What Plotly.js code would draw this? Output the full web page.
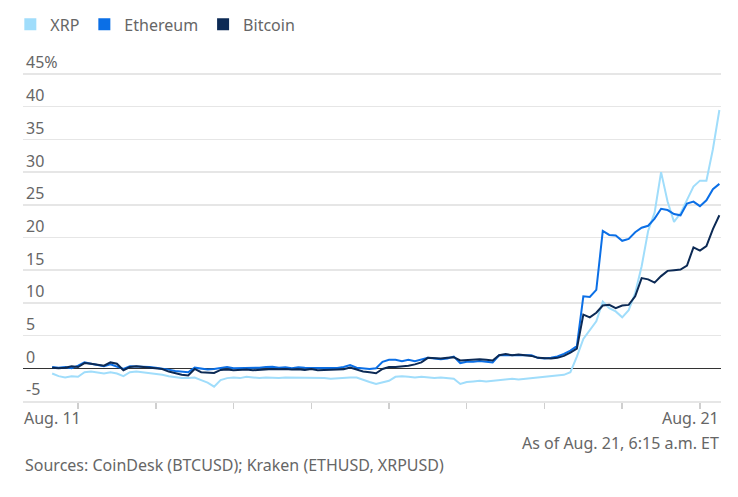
<!DOCTYPE html>
<html>
<head>
<meta charset="utf-8">
<script src="https://cdn.plot.ly/plotly-3.0.1.min.js"></script>
<style>
  html, body { margin: 0; padding: 0; background: #fff; }
  #crypto-chart { width: 738px; height: 497px; }
</style>
</head>
<body>
<div id="crypto-chart"></div>
<script>
// percent change since Aug. 11, one reading every 2 hours
var startTime = '2025-08-11T16:00:00';
var stepHours = 2;

var xrp = [
    -0.8, -1.2, -1.4, -1.2, -1.3, -0.6, -0.5, -0.6, -0.8, -0.6,
    -0.8, -1.2, -0.6, -0.5, -0.6, -0.7, -0.9, -1.0, -1.2, -1.4,
    -1.5, -1.5, -1.4, -1.8, -2.2, -2.8, -1.8, -1.5, -1.4, -1.5,
    -1.3, -1.4, -1.5, -1.4, -1.5, -1.5, -1.4, -1.4, -1.5, -1.4,
    -1.5, -1.5, -1.5, -1.6, -1.5, -1.4, -1.4, -1.4, -1.8, -2.1,
    -2.4, -2.1, -1.9, -1.3, -1.2, -1.3, -1.4, -1.3, -1.4, -1.5,
    -1.4, -1.5, -1.6, -2.4, -2.1, -2.0, -1.9, -2.0, -1.9, -1.8,
    -1.7, -1.6, -1.7, -1.6, -1.5, -1.4, -1.3, -1.1, -1.0, -1.0,
    -0.6, 1.8, 4.5, 5.9, 7.2, 10.2, 9.2, 8.7, 7.8, 8.9,
    11.5, 15.6, 21.0, 23.8, 30.0, 25.5, 22.4, 23.7, 25.7, 27.8,
    28.7, 28.7, 33.5, 39.5
];

var ethereum = [
    0.2, 0.1, 0.2, 0.0, 0.4, 0.9, 0.7, 0.5, 0.3, 0.6,
    0.3, -0.1, 0.3, 0.3, 0.2, 0.2, 0.1, 0.0, -0.2, -0.4,
    -0.5, -0.6, 0.1, -0.1, -0.2, -0.1, 0.1, 0.2, 0.0, 0.0,
    0.1, 0.0, 0.1, 0.2, 0.25, 0.1, 0.15, 0.0, 0.15, 0.1,
    0.1, 0.0, 0.1, 0.0, 0.05, 0.2, 0.5, 0.1, 0.0, -0.1,
    0.0, 1.0, 1.3, 1.3, 1.1, 1.3, 1.1, 1.4, 1.6, 1.5,
    1.4, 1.5, 1.8, 0.8, 1.0, 1.0, 1.1, 1.0, 0.9, 2.0,
    2.0, 1.9, 2.0, 1.9, 2.0, 1.6, 1.5, 1.6, 1.8, 2.2,
    2.7, 3.4, 11.0, 10.9, 12.0, 21.0, 20.4, 20.3, 19.5, 19.8,
    20.8, 21.5, 21.8, 22.9, 24.4, 24.2, 23.6, 23.4, 25.2, 25.5,
    24.8, 25.7, 27.4, 28.2
];

var bitcoin = [
    0.1, 0.0, 0.1, 0.3, 0.2, 0.8, 0.7, 0.5, 0.4, 0.9,
    0.7, -0.3, 0.2, 0.3, 0.2, 0.1, 0.0, -0.1, -0.5, -0.8,
    -1.0, -1.1, -0.1, -0.6, -0.7, -0.7, -0.25, -0.2, -0.3, -0.25,
    -0.2, -0.3, -0.25, -0.1, -0.1, -0.15, -0.1, -0.2, -0.15, -0.25,
    -0.1, -0.3, -0.25, -0.3, -0.2, -0.15, 0.1, -0.2, -0.5, -0.6,
    -0.75, -0.1, 0.2, 0.2, 0.25, 0.4, 0.6, 0.9, 1.6, 1.5,
    1.5, 1.6, 1.7, 1.2, 1.3, 1.3, 1.4, 1.3, 1.2, 2.0,
    2.2, 2.0, 2.1, 2.0, 1.9, 1.6, 1.5, 1.5, 1.6, 1.9,
    2.4, 3.0, 8.2, 7.8, 8.5, 9.6, 9.7, 9.2, 9.6, 9.7,
    11.0, 13.8, 13.6, 13.1, 14.1, 14.9, 15.0, 15.1, 15.7, 18.5,
    18.0, 18.7, 21.3, 23.4
];

var seriesNames = ['XRP', 'Ethereum', 'Bitcoin'];
var seriesColours = ['#a0ddfb', '#0b6fe6', '#0c2a55'];

var tickDates = ['2025-08-11T16:00:00', '2025-08-12', '2025-08-13', '2025-08-14',
    '2025-08-15', '2025-08-16', '2025-08-17', '2025-08-18', '2025-08-19', '2025-08-20'];
var yTickVals = [-5, 0, 5, 10, 15, 20, 25, 30, 35, 40, 45];
var yTickText = ['-5', '0', '5', '10', '15', '20', '25', '30', '35', '40', '45%'];

var times = [];
var t0 = new Date(startTime + 'Z').getTime();
for (var i = 0; i < xrp.length; i++) {
    times.push(new Date(t0 + i * stepHours * 3600000).toISOString().slice(0, 19));
}

var values = [xrp, ethereum, bitcoin];
var data = [];

// the lines
for (var s = 0; s < values.length; s++) {
    data.push({
        x: times,
        y: values[s],
        name: seriesNames[s],
        type: 'scatter',
        mode: 'lines',
        line: { color: seriesColours[s], width: 2 },
        showlegend: false,
        hoverinfo: 'skip'
    });
}

// square legend keys
for (var k = 0; k < seriesNames.length; k++) {
    data.push({
        x: [null],
        y: [null],
        name: seriesNames[k],
        type: 'scatter',
        mode: 'markers',
        marker: { symbol: 'square', size: 12, color: seriesColours[k] },
        showlegend: true
    });
}

var grey = '#666';
var gridGrey = '#e6e6e6';

var layout = {
    width: 738,
    height: 497,
    font: { family: '"Noto Sans", "Open Sans", sans-serif', size: 16, color: grey },
    paper_bgcolor: '#fff',
    plot_bgcolor: '#fff',
    // range runs to 50 so the 45% label has room inside the plot area
    margin: { l: 23, r: 17, t: 41, b: 96 },
    showlegend: true,
    legend: {
        orientation: 'h',
        xref: 'container',
        yref: 'container',
        x: 0.014,
        xanchor: 'left',
        y: 0.951,
        yanchor: 'middle',
        font: { size: 16, color: grey },
        itemclick: false
    },
    xaxis: {
        type: 'date',
        range: ['2025-08-11T07:00:00', '2025-08-20T06:30:00'],
        tickvals: tickDates,
        ticktext: tickDates.map(function () { return ''; }),
        ticks: 'outside',
        ticklen: 6,
        tickcolor: '#cfcfcf',
        tickwidth: 1.5,
        showgrid: false,
        showline: true,
        linecolor: gridGrey,
        linewidth: 1.5,
        zeroline: false,
        fixedrange: true
    },
    yaxis: {
        range: [-5, 50],
        tickvals: yTickVals,
        ticktext: yTickText,
        ticklabelposition: 'inside top',
        ticks: '',
        showgrid: true,
        gridcolor: gridGrey,
        gridwidth: 1.5,
        zeroline: true,
        zerolinecolor: '#333',
        zerolinewidth: 1.5,
        showline: false,
        tickfont: { size: 16, color: grey },
        fixedrange: true
    },
    annotations: [
        { text: 'Aug. 11', x: tickDates[0], xref: 'x', xanchor: 'center',
          y: -0.047, yref: 'paper', yanchor: 'middle', showarrow: false },
        { text: 'Aug. 21', x: 1, xref: 'paper', xanchor: 'right',
          y: -0.047, yref: 'paper', yanchor: 'middle', showarrow: false },
        { text: 'As of Aug. 21, 6:15 a.m. ET', x: 1, xref: 'paper', xanchor: 'right',
          y: -0.117, yref: 'paper', yanchor: 'middle', showarrow: false },
        { text: 'Sources: CoinDesk (BTCUSD); Kraken (ETHUSD, XRPUSD)', x: 0, xref: 'paper', xanchor: 'left',
          y: -0.178, yref: 'paper', yanchor: 'middle', showarrow: false }
    ]
};

var config = { staticPlot: true, displayModeBar: false };

Plotly.newPlot('crypto-chart', data, layout, config);
</script>
</body>
</html>
